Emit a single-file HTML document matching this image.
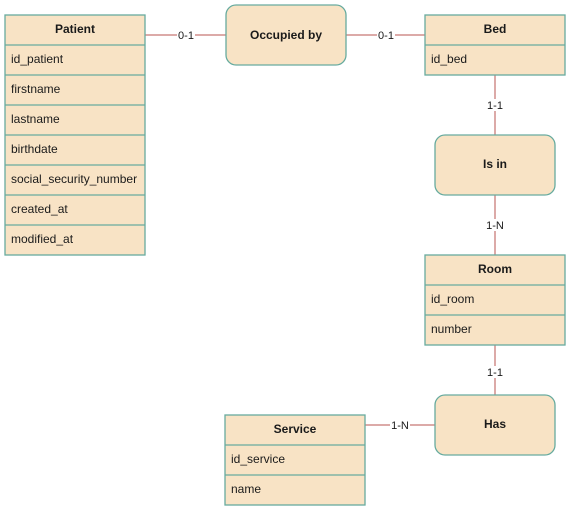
<!DOCTYPE html>
<html><head><style>
body{margin:0;background:#fff;width:571px;height:511px;overflow:hidden;font-family:"Liberation Sans",sans-serif;}
svg text{font-family:"Liberation Sans",sans-serif;fill:#1a1a1a;}
</style></head><body>
<svg width="571" height="511" xmlns="http://www.w3.org/2000/svg">
<g stroke="#b85450" stroke-width="1">
<line x1="145" y1="35" x2="226" y2="35"/>
<line x1="346" y1="35" x2="425" y2="35"/>
<line x1="495" y1="75" x2="495" y2="135"/>
<line x1="495" y1="195" x2="495" y2="255"/>
<line x1="495" y1="345" x2="495" y2="395"/>
<line x1="365" y1="425" x2="435" y2="425"/>
</g>
<g font-size="11" text-anchor="middle">
<rect x="177" y="29" width="18" height="12" fill="#fff"/><text x="186" y="39">0-1</text>
<rect x="377" y="29" width="18" height="12" fill="#fff"/><text x="386" y="39">0-1</text>
<rect x="486" y="99" width="18" height="12" fill="#fff"/><text x="495" y="109">1-1</text>
<rect x="485" y="219" width="20" height="12" fill="#fff"/><text x="495" y="229">1-N</text>
<rect x="486" y="366" width="18" height="12" fill="#fff"/><text x="495" y="376">1-1</text>
<rect x="390" y="419" width="20" height="12" fill="#fff"/><text x="400" y="429">1-N</text>
</g>
<g fill="#f8e3c5" stroke="#67ab9f" stroke-width="1.3">
<rect x="226" y="5" width="120" height="60" rx="10"/>
<rect x="435" y="135" width="120" height="60" rx="10"/>
<rect x="435" y="395" width="120" height="60" rx="10"/>
</g>
<g font-size="12" font-weight="bold" text-anchor="middle">
<text x="286" y="39">Occupied by</text>
<text x="495" y="168">Is in</text>
<text x="495" y="428">Has</text>
</g>
<g fill="#f8e3c5" stroke="#67ab9f" stroke-width="1.3">
<rect x="5" y="15" width="140" height="240"/>
<line x1="5" y1="45" x2="145" y2="45"/><line x1="5" y1="75" x2="145" y2="75"/><line x1="5" y1="105" x2="145" y2="105"/><line x1="5" y1="135" x2="145" y2="135"/><line x1="5" y1="165" x2="145" y2="165"/><line x1="5" y1="195" x2="145" y2="195"/><line x1="5" y1="225" x2="145" y2="225"/>
<rect x="425" y="15" width="140" height="60"/><line x1="425" y1="45" x2="565" y2="45"/>
<rect x="425" y="255" width="140" height="90"/><line x1="425" y1="285" x2="565" y2="285"/><line x1="425" y1="315" x2="565" y2="315"/>
<rect x="225" y="415" width="140" height="90"/><line x1="225" y1="445" x2="365" y2="445"/><line x1="225" y1="475" x2="365" y2="475"/>
</g>
<g font-size="12" font-weight="bold" text-anchor="middle">
<text x="75" y="33">Patient</text>
<text x="495" y="33">Bed</text>
<text x="495" y="273">Room</text>
<text x="295" y="433">Service</text>
</g>
<g font-size="12">
<text x="11" y="63">id_patient</text>
<text x="11" y="93">firstname</text>
<text x="11" y="123">lastname</text>
<text x="11" y="153">birthdate</text>
<text x="11" y="183">social_security_number</text>
<text x="11" y="213">created_at</text>
<text x="11" y="243">modified_at</text>
<text x="431" y="63">id_bed</text>
<text x="431" y="303">id_room</text>
<text x="431" y="333">number</text>
<text x="231" y="463">id_service</text>
<text x="231" y="493">name</text>
</g>
</svg>
</body></html>
